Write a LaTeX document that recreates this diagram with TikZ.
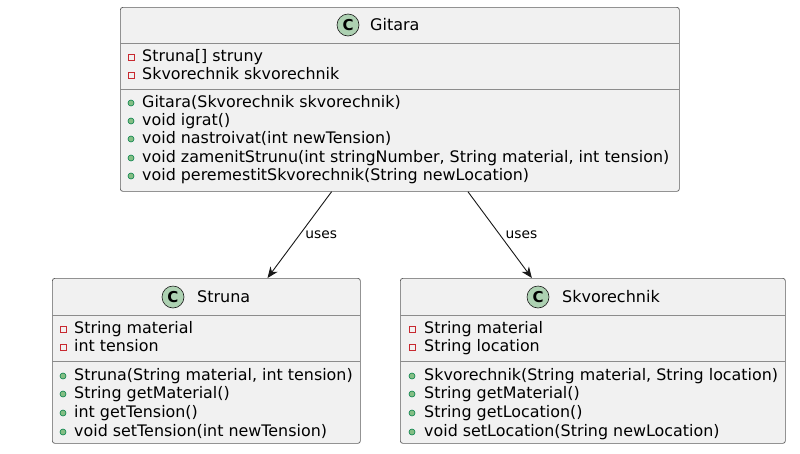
\documentclass[tikz,border=0pt]{standalone}
\usepackage{fontspec}
\setmainfont{DejaVu Sans}
\usetikzlibrary{arrows.meta}
\definecolor{umlFondo}{HTML}{F1F1F1}
\definecolor{umlBorde}{HTML}{181818}
\definecolor{umlLinea}{HTML}{8C8C8C}
\definecolor{umlCirculo}{HTML}{ADD1B2}
\definecolor{umlPrivado}{HTML}{C82930}
\definecolor{umlPublico}{HTML}{038048}
\definecolor{umlPublicoFondo}{HTML}{84BE84}

\begin{document}
\begin{tikzpicture}[x=1pt, y=-1pt,
  clase/.style={draw=umlBorde!70, fill=umlFondo, rounded corners=2.5pt, line width=0.7pt,
    inner sep=0pt, anchor=north west},
  separador/.style={draw=umlLinea, line width=0.7pt},
  icono/.style={circle, draw=umlBorde, fill=umlCirculo, line width=0.6pt, minimum size=22pt,
    inner sep=0pt, font=\fontsize{15}{15}\selectfont\bfseries},
  titulo/.style={anchor=west, inner sep=0pt, font=\fontsize{16}{18}\selectfont},
  miembro/.style={anchor=west, inner sep=0pt, text height=12pt, text depth=3.5pt,
    font=\fontsize{15.9}{18}\selectfont},
  privado/.style={draw=umlPrivado, line width=0.7pt},
  publico/.style={draw=umlPublico, fill=umlPublicoFondo, line width=0.6pt},
  usa/.style={-{Stealth[length=11pt, width=9pt, inset=3.5pt]}, draw=umlBorde, line width=0.9pt},
  etiqueta/.style={midway, right, xshift=2pt, font=\fontsize{13.8}{16}\selectfont},
]
  \useasboundingbox[fill=white] (0,0) rectangle (800,453);

  % Clase Gitara
  \node[clase, minimum width=559pt, minimum height=184pt] (gitara) at (120,7) {};
  \draw[separador] (120,43) -- (679,43);
  \draw[separador] (120,89) -- (679,89);
  \node[icono] (gitaraC) at (348,25) {C};
  \node[titulo] (gitaraNombre) at (370,25) {Gitara};
  \foreach \y/\t in {57/{Struna[] struny}, 75/{Skvorechnik skvorechnik}} {
    \draw[privado] (128,\y-3) rectangle ++(6,6);
    \node[miembro] at (142,\y) {\t};
  }
  \foreach \y/\t in {103/{Gitara(Skvorechnik skvorechnik)}, 121/{void igrat()},
      139/{void nastroivat(int newTension)},
      158/{void zamenitStrunu(int stringNumber, String material, int tension)},
      176/{void peremestitSkvorechnik(String newLocation)}} {
    \draw[publico] (131,\y) circle (3);
    \node[miembro] at (142,\y) {\t};
  }

  % Clase Struna
  \node[clase, minimum width=308pt, minimum height=165pt] (struna) at (52,278) {};
  \draw[separador] (52,315) -- (360,315);
  \draw[separador] (52,361) -- (360,361);
  \node[icono] (strunaC) at (173,297) {C};
  \node[titulo] (strunaNombre) at (197,297) {Struna};
  \foreach \y/\t in {329/{String material}, 347/{int tension}} {
    \draw[privado] (60,\y-3) rectangle ++(6,6);
    \node[miembro] at (74,\y) {\t};
  }
  \foreach \y/\t in {376/{Struna(String material, int tension)}, 394/{String getMaterial()},
      413/{int getTension()}, 432/{void setTension(int newTension)}} {
    \draw[publico] (63,\y) circle (3);
    \node[miembro] at (74,\y) {\t};
  }

  % Clase Skvorechnik
  \node[clase, minimum width=385pt, minimum height=165pt] (skvorechnik) at (400,278) {};
  \draw[separador] (400,315) -- (785,315);
  \draw[separador] (400,361) -- (785,361);
  \node[icono] (skvorechnikC) at (538,297) {C};
  \node[titulo] (skvorechnikNombre) at (562,297) {Skvorechnik};
  \foreach \y/\t in {329/{String material}, 347/{String location}} {
    \draw[privado] (409,\y-3) rectangle ++(6,6);
    \node[miembro] at (424,\y) {\t};
  }
  \foreach \y/\t in {376/{Skvorechnik(String material, String location)}, 394/{String getMaterial()},
      413/{String getLocation()}, 432/{void setLocation(String newLocation)}} {
    \draw[publico] (412,\y) circle (3);
    \node[miembro] at (424,\y) {\t};
  }

  % Relaciones
  \draw[usa] (gitara) -- node[etiqueta] {uses} (struna);
  \draw[usa] (gitara) -- node[etiqueta] {uses} (skvorechnik);
\end{tikzpicture}
\end{document}
